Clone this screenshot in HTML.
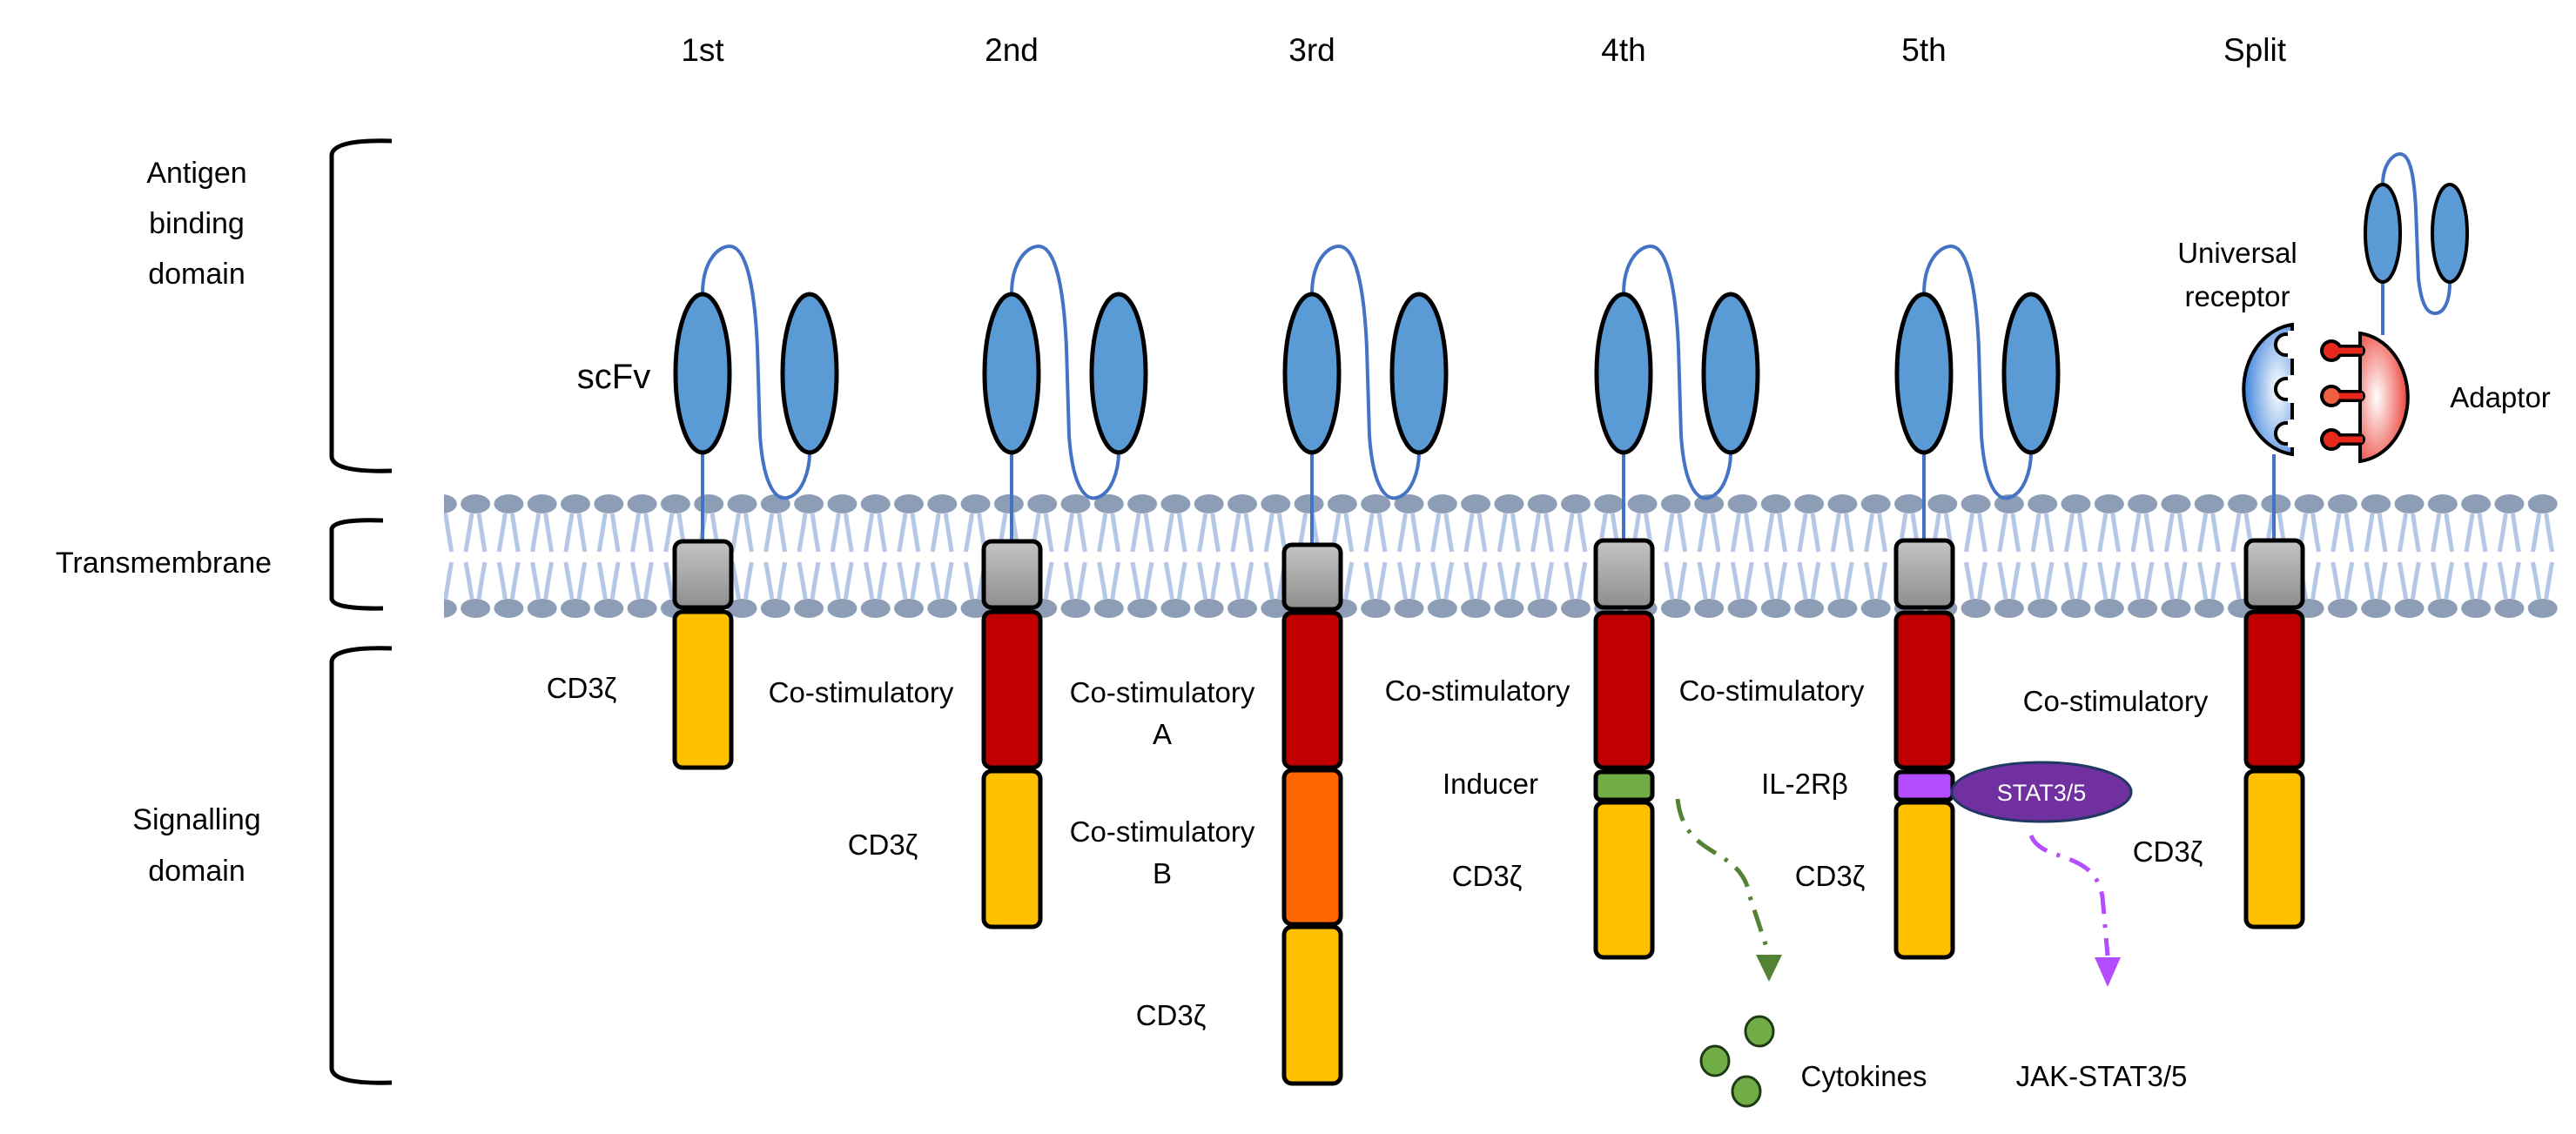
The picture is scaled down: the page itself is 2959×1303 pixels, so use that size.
<!DOCTYPE html>
<html><head><meta charset="utf-8"><style>
html,body{margin:0;padding:0;background:#fff;}
svg{display:block;}
text{font-family:"Liberation Sans",sans-serif;fill:#000;}
</style></head><body>
<svg width="2959" height="1303" viewBox="0 0 2959 1303" xmlns="http://www.w3.org/2000/svg">
<defs>
<linearGradient id="gr" x1="0" y1="0" x2="0" y2="1"><stop offset="0" stop-color="#c4c4c4"/><stop offset="1" stop-color="#8e8e8e"/></linearGradient>
<radialGradient id="bl" cx="0.7" cy="0.5" r="0.8"><stop offset="0" stop-color="#ffffff"/><stop offset="1" stop-color="#1f6fd6"/></radialGradient>
<radialGradient id="rd" cx="0.35" cy="0.5" r="0.8"><stop offset="0" stop-color="#ffffff"/><stop offset="1" stop-color="#e8180c"/></radialGradient>
<pattern id="lip" patternUnits="userSpaceOnUse" x="1407.85" y="560" width="38.3" height="160">
<path d="M15.15,30 Q12,50 8,74 M23.15,30 Q26,50 30,74 M15.15,128 Q12,108 8,86 M23.15,128 Q26,108 30,86" stroke="#b4c7e7" stroke-width="5" fill="none"/>
<ellipse cx="19.15" cy="19" rx="17" ry="11" fill="#8c9db5"/>
<ellipse cx="19.15" cy="139" rx="17" ry="11" fill="#8c9db5"/>
</pattern>
<g id="scfv">
<line x1="0" y1="520" x2="0" y2="625" stroke="#4472c4" stroke-width="4"/>
<path d="M0,338 C0,300 18,283 31,283 C50,283 60,330 63,400 L66,500 C70,560 85,575 97,572 C115,568 123,540 123,520" stroke="#4472c4" stroke-width="4" fill="none"/>
<ellipse cx="0" cy="429" rx="31" ry="91" fill="#5b9bd5" stroke="#000" stroke-width="5"/>
<ellipse cx="123" cy="429" rx="31" ry="91" fill="#5b9bd5" stroke="#000" stroke-width="5"/>
</g>
</defs>

<!-- headers -->
<g font-size="37" text-anchor="middle">
<text x="807" y="70">1st</text>
<text x="1162" y="70">2nd</text>
<text x="1507" y="70">3rd</text>
<text x="1865" y="70">4th</text>
<text x="2210" y="70">5th</text>
<text x="2590" y="70">Split</text>
</g>

<!-- brackets -->
<g stroke="#000" stroke-width="5" fill="none">
<path d="M450,162 Q383,160 381,178 L381,525 Q383,543 450,541"/>
<path d="M440,598 Q383,596 381,608 L381,688 Q383,700 440,699"/>
<path d="M450,745 Q383,743 381,760 L381,1228 Q383,1246 450,1244"/>
</g>
<g font-size="34" text-anchor="middle">
<text x="226" y="210">Antigen</text>
<text x="226" y="268">binding</text>
<text x="226" y="326">domain</text>
<text x="188" y="658">Transmembrane</text>
<text x="226" y="953">Signalling</text>
<text x="226" y="1012">domain</text>
</g>

<!-- membrane -->
<rect x="510" y="560" width="2430" height="160" fill="url(#lip)"/>

<!-- scFv -->
<use href="#scfv" x="807"/>
<use href="#scfv" x="1162"/>
<use href="#scfv" x="1507"/>
<use href="#scfv" x="1865"/>
<use href="#scfv" x="2210"/>

<!-- split top -->
<line x1="2612" y1="522" x2="2612" y2="625" stroke="#4472c4" stroke-width="4"/>
<line x1="2737" y1="320" x2="2737" y2="385" stroke="#4472c4" stroke-width="4"/>
<path d="M2737,212 C2737,190 2748,177 2757,177 C2768,177 2773,200 2775,240 L2778,320 C2782,355 2790,360 2797,360 C2808,360 2814,345 2814,325" stroke="#4472c4" stroke-width="4" fill="none"/>
<ellipse cx="2737" cy="268" rx="20" ry="56" fill="#5b9bd5" stroke="#000" stroke-width="4"/>
<ellipse cx="2814" cy="268" rx="20" ry="56" fill="#5b9bd5" stroke="#000" stroke-width="4"/>

<!-- universal receptor -->
<path d="M2633,373 A63,75 0 0 0 2633,522 Z" fill="url(#bl)" stroke="#000" stroke-width="4"/>
<g fill="#fff" stroke="#000" stroke-width="4">
<circle cx="2626" cy="396" r="12"/><circle cx="2626" cy="447" r="12"/><circle cx="2626" cy="498" r="12"/>
</g>
<g fill="#fff"><rect x="2628" y="380" width="12" height="32"/><rect x="2628" y="431" width="12" height="32"/><rect x="2628" y="482" width="12" height="32"/></g>

<!-- adaptor -->
<path d="M2711,383 A62,74 0 0 1 2711,530 Z" fill="url(#rd)" stroke="#000" stroke-width="4"/>
<g stroke="#000" stroke-width="14" stroke-linecap="round"><line x1="2680" y1="403" x2="2710" y2="403"/><line x1="2680" y1="455" x2="2710" y2="455"/><line x1="2680" y1="505" x2="2710" y2="505"/></g>
<g fill="#000"><circle cx="2678" cy="403" r="13"/><circle cx="2678" cy="455" r="13"/><circle cx="2678" cy="505" r="13"/></g>
<g stroke="#e8281c" stroke-width="7"><line x1="2680" y1="403" x2="2714" y2="403"/><line x1="2680" y1="455" x2="2714" y2="455"/><line x1="2680" y1="505" x2="2714" y2="505"/></g>
<g fill="#e8281c"><circle cx="2678" cy="403" r="9"/><circle cx="2678" cy="455" r="9" fill="#f06040"/><circle cx="2678" cy="505" r="9"/></g>

<!-- boxes -->
<g stroke="#000" stroke-width="5">
<rect x="775" y="622" width="65" height="76" rx="9" fill="url(#gr)"/>
<rect x="775" y="703" width="65" height="179" rx="9" fill="#ffc000"/>

<rect x="1130" y="622" width="65" height="76" rx="9" fill="url(#gr)"/>
<rect x="1130" y="703" width="65" height="179" rx="9" fill="#c00000"/>
<rect x="1130" y="886" width="65" height="179" rx="9" fill="#ffc000"/>

<rect x="1475" y="626" width="65" height="74" rx="9" fill="url(#gr)"/>
<rect x="1475" y="704" width="65" height="178" rx="9" fill="#c00000"/>
<rect x="1475" y="885" width="65" height="177" rx="9" fill="#ff6600"/>
<rect x="1475" y="1065" width="65" height="180" rx="9" fill="#ffc000"/>

<rect x="1833" y="621" width="65" height="77" rx="9" fill="url(#gr)"/>
<rect x="1833" y="704" width="65" height="178" rx="9" fill="#c00000"/>
<rect x="1833" y="887" width="65" height="32" rx="6" fill="#70ad47"/>
<rect x="1833" y="922" width="65" height="178" rx="9" fill="#ffc000"/>

<rect x="2178" y="621" width="65" height="77" rx="9" fill="url(#gr)"/>
<rect x="2178" y="704" width="65" height="178" rx="9" fill="#c00000"/>
<rect x="2178" y="887" width="65" height="32" rx="6" fill="#b34dff"/>
<rect x="2178" y="922" width="65" height="178" rx="9" fill="#ffc000"/>

<rect x="2580" y="621" width="65" height="77" rx="9" fill="url(#gr)"/>
<rect x="2580" y="703" width="65" height="179" rx="9" fill="#c00000"/>
<rect x="2580" y="886" width="65" height="179" rx="9" fill="#ffc000"/>
</g>

<!-- STAT ellipse -->
<ellipse cx="2345" cy="910" rx="103" ry="34" fill="#7030a0" stroke="#203864" stroke-width="3"/>
<text x="2345" y="920" font-size="27" text-anchor="middle" style="fill:#fff">STAT3/5</text>

<!-- arrows -->
<path d="M1927,918 C1935,990 2000,970 2010,1030 L2032,1097" stroke="#548235" stroke-width="5" fill="none" stroke-dasharray="26 12 4 12"/>
<polygon points="2017,1097 2047,1097 2032,1128" fill="#548235"/>
<path d="M2333,960 C2345,992 2405,975 2415,1030 L2421,1098" stroke="#b44cff" stroke-width="5" fill="none" stroke-dasharray="26 12 4 12"/>
<polygon points="2406,1100 2436,1100 2421,1134" fill="#b44cff"/>

<!-- cytokines -->
<g fill="#70ad47" stroke="#1e3a14" stroke-width="3">
<ellipse cx="2021" cy="1185" rx="16" ry="17"/>
<ellipse cx="1970" cy="1219" rx="16" ry="17"/>
<ellipse cx="2006" cy="1254" rx="16" ry="17"/>
</g>

<!-- labels -->
<g font-size="33" text-anchor="middle">
<text x="705" y="446" font-size="40">scFv</text>
<text x="668" y="802">CD3ζ</text>
<text x="989" y="807">Co-stimulatory</text>
<text x="1014" y="982">CD3ζ</text>
<text x="1335" y="807">Co-stimulatory</text>
<text x="1335" y="855">A</text>
<text x="1335" y="967">Co-stimulatory</text>
<text x="1335" y="1015">B</text>
<text x="1345" y="1178">CD3ζ</text>
<text x="1697" y="805">Co-stimulatory</text>
<text x="1712" y="912">Inducer</text>
<text x="1708" y="1018">CD3ζ</text>
<text x="2035" y="805">Co-stimulatory</text>
<text x="2073" y="912">IL-2Rβ</text>
<text x="2102" y="1018">CD3ζ</text>
<text x="2430" y="817">Co-stimulatory</text>
<text x="2490" y="990">CD3ζ</text>
<text x="2570" y="302">Universal</text>
<text x="2570" y="352">receptor</text>
<text x="2872" y="468">Adaptor</text>
<text x="2141" y="1248">Cytokines</text>
<text x="2414" y="1248">JAK-STAT3/5</text>
</g>
</svg>
</body></html>
